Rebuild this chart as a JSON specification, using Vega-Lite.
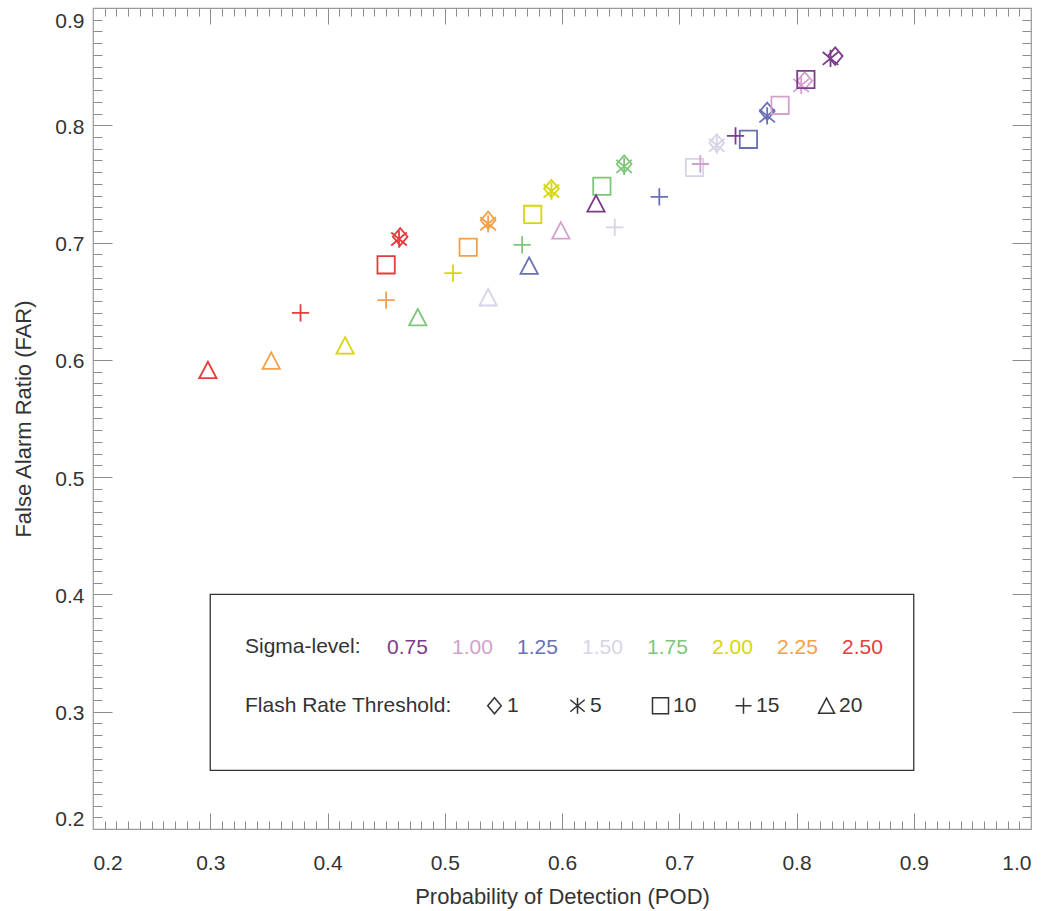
{
  "$schema": "https://vega.github.io/schema/vega-lite/v6.json",
  "width": 938,
  "height": 821,
  "autosize": {"type": "none"},
  "padding": {"left": 93, "top": 8, "right": 19, "bottom": 82},
  "background": "white",
  "config": {
    "view": {"stroke": "#9a9a9a", "strokeWidth": 1.2},
    "font": "Liberation Sans",
    "axis": {
      "labelFont": "Liberation Sans",
      "labelFontSize": 21,
      "labelColor": "#333333",
      "titleFont": "Liberation Sans",
      "titleFontSize": 22,
      "titleFontWeight": "normal",
      "titleColor": "#333333",
      "grid": false,
      "domain": false,
      "tickColor": "#8c8c8c",
      "tickWidth": 1
    },
    "legend": {
      "labelFont": "Liberation Sans",
      "titleFont": "Liberation Sans",
      "labelFontSize": 21,
      "titleFontSize": 21,
      "titleFontWeight": "normal",
      "titleColor": "#333333",
      "titleLimit": 0,
      "labelLimit": 0
    }
  },
  "datasets": {
    "scores": [
      {"sigma": "2.50", "frt": "1", "pod": 0.462, "far": 0.705},
      {"sigma": "2.50", "frt": "5", "pod": 0.461, "far": 0.703},
      {"sigma": "2.50", "frt": "10", "pod": 0.450, "far": 0.681},
      {"sigma": "2.50", "frt": "15", "pod": 0.377, "far": 0.640},
      {"sigma": "2.50", "frt": "20", "pod": 0.298, "far": 0.591},
      {"sigma": "2.25", "frt": "1", "pod": 0.537, "far": 0.719},
      {"sigma": "2.25", "frt": "5", "pod": 0.537, "far": 0.716},
      {"sigma": "2.25", "frt": "10", "pod": 0.520, "far": 0.696},
      {"sigma": "2.25", "frt": "15", "pod": 0.450, "far": 0.651},
      {"sigma": "2.25", "frt": "20", "pod": 0.352, "far": 0.599},
      {"sigma": "2.00", "frt": "1", "pod": 0.591, "far": 0.746},
      {"sigma": "2.00", "frt": "5", "pod": 0.591, "far": 0.744},
      {"sigma": "2.00", "frt": "10", "pod": 0.575, "far": 0.724},
      {"sigma": "2.00", "frt": "15", "pod": 0.507, "far": 0.674},
      {"sigma": "2.00", "frt": "20", "pod": 0.415, "far": 0.612},
      {"sigma": "1.75", "frt": "1", "pod": 0.653, "far": 0.767},
      {"sigma": "1.75", "frt": "5", "pod": 0.653, "far": 0.765},
      {"sigma": "1.75", "frt": "10", "pod": 0.634, "far": 0.748},
      {"sigma": "1.75", "frt": "15", "pod": 0.566, "far": 0.698},
      {"sigma": "1.75", "frt": "20", "pod": 0.477, "far": 0.636},
      {"sigma": "1.50", "frt": "1", "pod": 0.732, "far": 0.785},
      {"sigma": "1.50", "frt": "5", "pod": 0.732, "far": 0.783},
      {"sigma": "1.50", "frt": "10", "pod": 0.713, "far": 0.764},
      {"sigma": "1.50", "frt": "15", "pod": 0.645, "far": 0.713},
      {"sigma": "1.50", "frt": "20", "pod": 0.537, "far": 0.653},
      {"sigma": "1.25", "frt": "1", "pod": 0.775, "far": 0.812},
      {"sigma": "1.25", "frt": "5", "pod": 0.775, "far": 0.808},
      {"sigma": "1.25", "frt": "10", "pod": 0.759, "far": 0.788},
      {"sigma": "1.25", "frt": "15", "pod": 0.683, "far": 0.739},
      {"sigma": "1.25", "frt": "20", "pod": 0.572, "far": 0.680},
      {"sigma": "1.00", "frt": "1", "pod": 0.807, "far": 0.838},
      {"sigma": "1.00", "frt": "5", "pod": 0.804, "far": 0.834},
      {"sigma": "1.00", "frt": "10", "pod": 0.786, "far": 0.817},
      {"sigma": "1.00", "frt": "15", "pod": 0.718, "far": 0.767},
      {"sigma": "1.00", "frt": "20", "pod": 0.599, "far": 0.710},
      {"sigma": "0.75", "frt": "1", "pod": 0.833, "far": 0.859},
      {"sigma": "0.75", "frt": "5", "pod": 0.829, "far": 0.857},
      {"sigma": "0.75", "frt": "10", "pod": 0.808, "far": 0.839},
      {"sigma": "0.75", "frt": "15", "pod": 0.748, "far": 0.791},
      {"sigma": "0.75", "frt": "20", "pod": 0.629, "far": 0.733}
    ]
  },
  "data": {"name": "scores"},
  "resolve": {"axis": {"x": "independent", "y": "independent"}},
  "layer": [
    {
      "data": {"values": [{}]},
      "mark": {"type": "rect", "fill": "transparent", "stroke": "#333333", "strokeWidth": 1.3},
      "encoding": {
        "x": {"datum": 0.3, "type": "quantitative", "scale": {"domain": [0.2, 1.0], "nice": false, "zero": false}, "axis": null},
        "x2": {"datum": 0.9},
        "y": {"datum": 0.25, "type": "quantitative", "scale": {"domain": [0.2, 0.9], "nice": false, "zero": false}, "axis": null},
        "y2": {"datum": 0.4}
      }
    },
    {
      "mark": {"type": "point", "filled": false, "strokeWidth": 1.8, "size": 300, "opacity": 1},
      "encoding": {
        "x": {
          "field": "pod", "type": "quantitative",
          "scale": {"domain": [0.2, 1.0], "nice": false, "zero": false},
          "axis": {
            "orient": "bottom",
            "values": [0.2, 0.3, 0.4, 0.5, 0.6, 0.7, 0.8, 0.9, 1.0],
            "format": ".1f",
            "ticks": false, "tickSize": 0,
            "labelPadding": 23,
            "title": "Probability of Detection (POD)",
            "titleBaseline": "alphabetic",
            "titleY": 74
          }
        },
        "y": {
          "field": "far", "type": "quantitative",
          "scale": {"domain": [0.2, 0.9], "nice": false, "zero": false},
          "axis": {
            "orient": "left",
            "values": [0.21, 0.3, 0.4, 0.5, 0.6, 0.7, 0.8, 0.89],
            "labelExpr": "datum.value < 0.25 ? '0.2' : datum.value > 0.85 ? '0.9' : format(datum.value, '.1f')",
            "ticks": false, "tickSize": 0,
            "labelPadding": 9,
            "labelOffset": 2,
            "title": "False Alarm Ratio (FAR)",
            "titleBaseline": "alphabetic",
            "titleX": -63
          }
        },
        "color": {
          "field": "sigma", "type": "nominal",
          "scale": {
            "domain": ["0.75", "1.00", "1.25", "1.50", "1.75", "2.00", "2.25", "2.50"],
            "range": ["#7d3c8c", "#d4a0cc", "#6a70b5", "#d6d4e6", "#7dc67a", "#d6d60a", "#f4a04a", "#e43d3d"]
          },
          "legend": {
            "title": "Sigma-level:",
            "orient": "none",
            "legendX": 152,
            "legendY": 629,
            "direction": "horizontal",
            "columns": 8,
            "gridAlign": "all",
            "titleOrient": "left",
            "titlePadding": 5,
            "symbolSize": 0,
            "symbolOpacity": 0,
            "symbolStrokeWidth": 0,
            "labelOffset": 0,
            "columnPadding": 3,
            "labelColor": {"expr": "scale('color', datum.value)"}
          }
        },
        "shape": {
          "field": "frt", "type": "nominal",
          "scale": {
            "domain": ["1", "5", "10", "15", "20"],
            "range": [
              "M0,-1L0.85,0L0,1L-0.85,0Z",
              "M0,-1L0,1M-0.9,-0.75L0.9,0.75M-0.9,0.75L0.9,-0.75",
              "M-1,-1L1,-1L1,1L-1,1Z",
              "M-1,0L1,0M0,-1L0,1",
              "M0,-1L1,0.9L-1,0.9Z"
            ]
          },
          "legend": {
            "title": "Flash Rate Threshold:",
            "orient": "none",
            "legendX": 152,
            "legendY": 687,
            "direction": "horizontal",
            "columns": 5,
            "gridAlign": "all",
            "titleOrient": "left",
            "titlePadding": 32,
            "symbolSize": 256,
            "symbolStrokeWidth": 1.5,
            "symbolStrokeColor": "#333333",
            "symbolFillColor": "transparent",
            "labelColor": "#333333",
            "labelOffset": 2,
            "columnPadding": 35,
            "encode": {"symbols": {"update": {"stroke": {"value": "#333333"}, "fill": {"value": "transparent"}}}}
          }
        }
      }
    },
    {
      "mark": {"type": "point", "opacity": 0},
      "encoding": {
        "x": {"field": "pod", "type": "quantitative", "scale": {"domain": [0.2, 1.0], "nice": false, "zero": false},
          "axis": {"orient": "bottom", "values": [0.3, 0.4, 0.5, 0.6, 0.7, 0.8, 0.9], "labels": false, "tickSize": 16, "offset": -16, "title": null}},
        "y": {"field": "far", "type": "quantitative", "scale": {"domain": [0.2, 0.9], "nice": false, "zero": false},
          "axis": {"orient": "left", "values": [0.3, 0.4, 0.5, 0.6, 0.7, 0.8], "labels": false, "tickSize": 19, "offset": -19, "title": null}}
      }
    },
    {
      "mark": {"type": "point", "opacity": 0},
      "encoding": {
        "x": {"field": "pod", "type": "quantitative", "scale": {"domain": [0.2, 1.0], "nice": false, "zero": false},
          "axis": {"orient": "bottom", "values": [0.21, 0.22, 0.23, 0.24, 0.25, 0.26, 0.27, 0.28, 0.29, 0.31, 0.32, 0.33, 0.34, 0.35, 0.36, 0.37, 0.38, 0.39, 0.41, 0.42, 0.43, 0.44, 0.45, 0.46, 0.47, 0.48, 0.49, 0.51, 0.52, 0.53, 0.54, 0.55, 0.56, 0.57, 0.58, 0.59, 0.61, 0.62, 0.63, 0.64, 0.65, 0.66, 0.67, 0.68, 0.69, 0.71, 0.72, 0.73, 0.74, 0.75, 0.76, 0.77, 0.78, 0.79, 0.81, 0.82, 0.83, 0.84, 0.85, 0.86, 0.87, 0.88, 0.89, 0.91, 0.92, 0.93, 0.94, 0.95, 0.96, 0.97, 0.98, 0.99], "labels": false, "tickSize": 8, "offset": -8, "title": null}},
        "y": {"field": "far", "type": "quantitative", "scale": {"domain": [0.2, 0.9], "nice": false, "zero": false},
          "axis": {"orient": "left", "values": [0.21, 0.22, 0.23, 0.24, 0.25, 0.26, 0.27, 0.28, 0.29, 0.31, 0.32, 0.33, 0.34, 0.35, 0.36, 0.37, 0.38, 0.39, 0.41, 0.42, 0.43, 0.44, 0.45, 0.46, 0.47, 0.48, 0.49, 0.51, 0.52, 0.53, 0.54, 0.55, 0.56, 0.57, 0.58, 0.59, 0.61, 0.62, 0.63, 0.64, 0.65, 0.66, 0.67, 0.68, 0.69, 0.71, 0.72, 0.73, 0.74, 0.75, 0.76, 0.77, 0.78, 0.79, 0.81, 0.82, 0.83, 0.84, 0.85, 0.86, 0.87, 0.88, 0.89], "labels": false, "tickSize": 9, "offset": -9, "title": null}}
      }
    },
    {
      "mark": {"type": "point", "opacity": 0},
      "encoding": {
        "x": {"field": "pod", "type": "quantitative", "scale": {"domain": [0.2, 1.0], "nice": false, "zero": false},
          "axis": {"orient": "top", "values": [0.3, 0.4, 0.5, 0.6, 0.7, 0.8, 0.9], "labels": false, "tickSize": 16, "offset": -16, "title": null}},
        "y": {"field": "far", "type": "quantitative", "scale": {"domain": [0.2, 0.9], "nice": false, "zero": false},
          "axis": {"orient": "right", "values": [0.3, 0.4, 0.5, 0.6, 0.7, 0.8], "labels": false, "tickSize": 19, "offset": -19, "title": null}}
      }
    },
    {
      "mark": {"type": "point", "opacity": 0},
      "encoding": {
        "x": {"field": "pod", "type": "quantitative", "scale": {"domain": [0.2, 1.0], "nice": false, "zero": false},
          "axis": {"orient": "top", "values": [0.21, 0.22, 0.23, 0.24, 0.25, 0.26, 0.27, 0.28, 0.29, 0.31, 0.32, 0.33, 0.34, 0.35, 0.36, 0.37, 0.38, 0.39, 0.41, 0.42, 0.43, 0.44, 0.45, 0.46, 0.47, 0.48, 0.49, 0.51, 0.52, 0.53, 0.54, 0.55, 0.56, 0.57, 0.58, 0.59, 0.61, 0.62, 0.63, 0.64, 0.65, 0.66, 0.67, 0.68, 0.69, 0.71, 0.72, 0.73, 0.74, 0.75, 0.76, 0.77, 0.78, 0.79, 0.81, 0.82, 0.83, 0.84, 0.85, 0.86, 0.87, 0.88, 0.89, 0.91, 0.92, 0.93, 0.94, 0.95, 0.96, 0.97, 0.98, 0.99], "labels": false, "tickSize": 8, "offset": -8, "title": null}},
        "y": {"field": "far", "type": "quantitative", "scale": {"domain": [0.2, 0.9], "nice": false, "zero": false},
          "axis": {"orient": "right", "values": [0.21, 0.22, 0.23, 0.24, 0.25, 0.26, 0.27, 0.28, 0.29, 0.31, 0.32, 0.33, 0.34, 0.35, 0.36, 0.37, 0.38, 0.39, 0.41, 0.42, 0.43, 0.44, 0.45, 0.46, 0.47, 0.48, 0.49, 0.51, 0.52, 0.53, 0.54, 0.55, 0.56, 0.57, 0.58, 0.59, 0.61, 0.62, 0.63, 0.64, 0.65, 0.66, 0.67, 0.68, 0.69, 0.71, 0.72, 0.73, 0.74, 0.75, 0.76, 0.77, 0.78, 0.79, 0.81, 0.82, 0.83, 0.84, 0.85, 0.86, 0.87, 0.88, 0.89], "labels": false, "tickSize": 9, "offset": -9, "title": null}}
      }
    }
  ]
}
